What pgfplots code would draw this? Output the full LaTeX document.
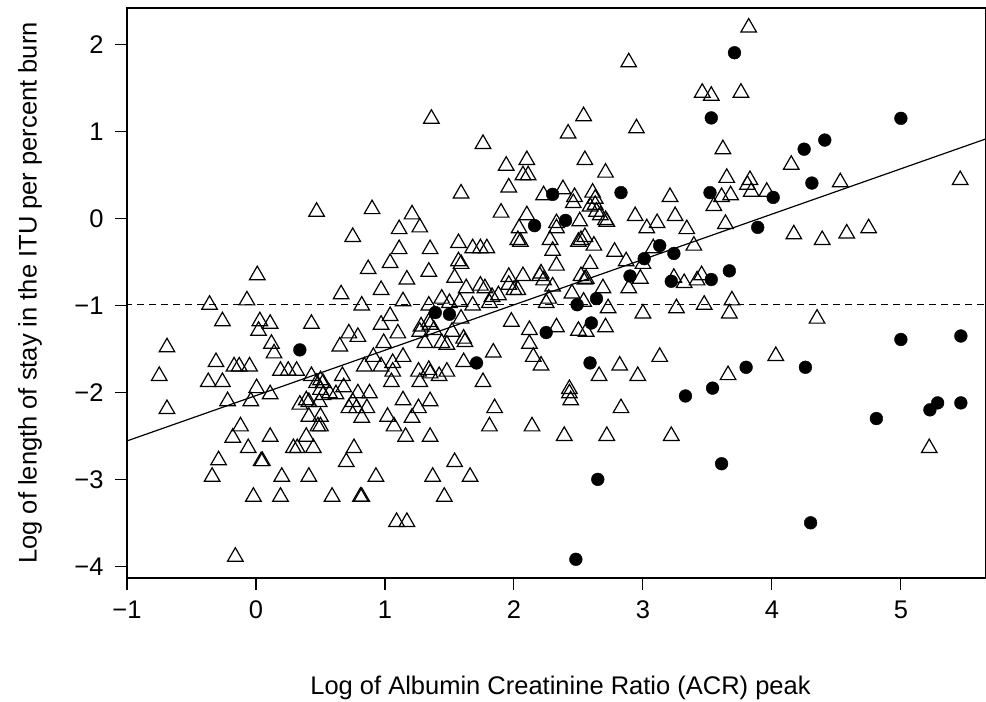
\documentclass[border=0pt]{standalone}
\usepackage{fontspec}
\setmainfont{Liberation Sans}
\usepackage{pgfplots}
\pgfplotsset{compat=1.18}
\begin{document}
\begin{tikzpicture}[font=\fontsize{25.5}{30}\selectfont]
\begin{axis}[
  scale only axis, width=859pt, height=570pt,
  xmin=-1, xmax=5.66, ymin=-4.135, ymax=2.425,
  axis line style={line width=1.1pt},
  xtick={-1,0,1,2,3,4,5}, xticklabels={−1,0,1,2,3,4,5},
  ytick={-4,-3,-2,-1,0,1,2}, yticklabels={−4,−3,−2,−1,0,1,2},
  xtick pos=lower, ytick pos=left,
  tick align=outside, major tick length=12pt,
  tick style={line width=1.1pt, black},
  xticklabel style={yshift=-7pt},
  yticklabel style={xshift=-8pt},
  clip=true,
]
% triangles
\addplot[only marks, mark=triangle, mark size=9pt, mark options={line width=1.2pt, fill=none, draw=black}] coordinates {
(0.01,-0.65) (-0.36,-0.99) (-0.07,-0.94) (-0.26,-1.18) (0.03,-1.18) (0.11,-1.21) (0.02,-1.29) (-0.69,-1.48) (0.12,-1.44)
(0.14,-1.55) (-0.31,-1.65) (-0.17,-1.70) (-0.13,-1.70) (-0.05,-1.70) (-0.75,-1.81) (-0.37,-1.88) (-0.26,-1.88) (0.19,-1.75) (0.25,-1.75) (0.315,-1.75) (0.005,-1.95) (0.11,-2.02) (-0.22,-2.10) (-0.04,-2.10) (-0.69,-2.19) (-0.12,-2.39) (-0.18,-2.52) (0.11,-2.51) (-0.06,-2.64) (0.29,-2.64) (0.32,-2.64) (-0.29,-2.78) (0.04,-2.79) (0.05,-2.79) (-0.34,-2.97) (0.20,-2.97) (-0.02,-3.2) (0.19,-3.2) (-0.16,-3.89) (0.34,-2.14)
(1.59,0.29) (0.47,0.08) (0.90,0.11) (1.21,0.05) (1.11,-0.12) (1.27,-0.10) (0.75,-0.21) (1.11,-0.35) (1.35,-0.35) (1.57,-0.28) (1.68,-0.34) (1.74,-0.34) (1.79,-0.34) (1.04,-0.51) (1.57,-0.49) (1.59,-0.52) (0.87,-0.58) (1.34,-0.61) (1.17,-0.70) (1.54,-0.68) (1.63,-0.80) (1.74,-0.77) (0.66,-0.87) (0.97,-0.82) (1.44,-0.92) (1.14,-0.95) (1.58,-0.955) (0.82,-1.0) (1.34,-1.0) (1.68,-1.0) (1.50,-0.97) (0.43,-1.21) (1.04,-1.12) (0.97,-1.22) (1.34,-1.19) (1.35,-1.22) (1.59,-1.15) (0.72,-1.32) (0.79,-1.36) (1.10,-1.32) (1.27,-1.30) (1.28,-1.24) (1.38,-1.28) (1.52,-1.30) (1.61,-1.38) (1.62,-1.42) (0.65,-1.47) (0.99,-1.43) (1.31,-1.43) (1.44,-1.43) (1.36,1.15)
(1.48,-1.45) (0.91,-1.59) (1.14,-1.59) (0.84,-1.70) (0.97,-1.70) (1.06,-1.66) (1.06,-1.76) (1.26,-1.76) (1.34,-1.74) (1.35,-1.78) (1.48,-1.76) (1.42,-1.81) (1.61,-1.65) (1.76,-1.88) (0.43,-1.81) (0.50,-1.86) (0.52,-1.89) (0.67,-1.81) (0.68,-1.94) (1.05,-1.88) (1.27,-1.88) (0.47,-1.89) (0.50,-1.97) (0.52,-2.03) (0.57,-2.01) (0.62,-2.02) (0.39,-2.09) (0.41,-2.11) (0.49,-2.11) (0.79,-2.01) (0.88,-2.01) (0.75,-2.11) (0.72,-2.18) (0.86,-2.18) (0.78,-2.18) (0.82,-2.29) (1.14,-2.09) (1.35,-2.10) (1.26,-2.18) (1.21,-2.29) (1.02,-2.28) (1.07,-2.39) (0.41,-2.28) (0.50,-2.28) (0.48,-2.39) (0.50,-2.39) (0.39,-2.51) (1.16,-2.51) (1.35,-2.51) (0.445,-2.64) (0.76,-2.64) (0.70,-2.80) (1.54,-2.80) (0.41,-2.97) (0.93,-2.97) (1.37,-2.97) (1.66,-2.97) (0.59,-3.2) (0.81,-3.2) (0.82,-3.2) (1.46,-3.2) (1.09,-3.49) (1.17,-3.49)
(2.89,1.80) (2.54,1.18) (2.42,0.98) (2.95,1.04) (1.76,0.86) (1.94,0.61) (2.10,0.675) (2.07,0.50) (2.11,0.50) (2.55,0.675) (2.71,0.53) (1.96,0.36) (2.38,0.34) (2.23,0.27) (2.47,0.25) (2.61,0.30) (2.63,0.23) (3.21,0.25)
(2.46,0.18) (2.59,0.14) (2.63,0.16) (2.64,0.08) (2.67,0.04) (2.71,-0.015) (2.72,-0.035) (1.90,0.07) (2.10,0.04) (2.04,-0.11) (2.33,-0.11) (2.33,-0.05) (2.51,-0.03) (2.94,0.03) (3.03,-0.11) (3.11,-0.05) (3.25,0.03) (2.03,-0.245) (2.05,-0.265) (2.28,-0.245) (2.50,-0.265) (2.55,-0.21) (2.52,-0.245) (2.62,-0.31) (2.30,-0.37) (2.78,-0.38) (3.08,-0.34) (2.87,-0.49) (3.00,-0.52) (2.33,-0.54) (2.59,-0.52) (2.52,-0.66) (2.56,-0.69) (2.55,-0.70) (2.98,-0.69) (1.96,-0.67) (2.07,-0.66) (2.20,-0.66) (2.23,-0.71) (2.21,-0.63) (1.775,-0.80) (1.83,-0.90) (1.88,-0.88) (1.81,-0.97) (1.96,-0.76) (2.00,-0.82) (2.03,-0.82) (2.30,-0.78) (2.27,-0.92) (2.25,-0.97) (2.45,-0.86) (2.69,-0.80) (2.89,-0.80) (2.54,-0.955) (2.73,-1.03) (3.00,-1.09) (3.26,-1.03) (1.98,-1.185) (2.33,-1.25) (2.71,-1.25) (2.50,-1.29) (2.56,-1.30) (2.12,-1.28) (2.12,-1.44) (1.84,-1.54) (2.15,-1.59) (2.21,-1.69) (2.82,-1.69) (3.13,-1.59) (2.66,-1.81) (2.96,-1.81) (2.43,-1.96)
(2.43,-2.01) (2.44,-2.09) (1.85,-2.18) (2.83,-2.18) (1.81,-2.39) (2.14,-2.39) (2.39,-2.50) (2.72,-2.50) (3.22,-2.50)
(3.82,2.2) (3.46,1.45) (3.53,1.415) (3.76,1.45) (3.62,0.80) (4.15,0.62) (3.65,0.47) (3.83,0.445) (3.81,0.39) (3.84,0.31) (4.53,0.42) (3.61,0.25) (3.68,0.27) (3.96,0.31)
(3.55,0.146) (3.34,-0.12) (3.64,-0.06) (4.17,-0.18) (4.39,-0.245) (4.58,-0.17) (4.75,-0.11) (3.395,-0.31) (3.455,-0.65) (3.42,-0.71) (3.32,-0.74) (3.24,-0.68) (3.69,-0.94) (3.475,-0.99) (3.67,-1.09) (4.35,-1.15) (4.03,-1.58) (3.66,-1.80)
(5.46,0.445) (5.22,-2.64)
};
% filled dots
\addplot[only marks, mark=*, mark size=6.4pt, mark options={fill=black, draw=black, line width=0.4pt}] coordinates {
(0.34,-1.51) (1.39,-1.08) (1.50,-1.10) (1.71,-1.66) (2.30,0.28) (2.83,0.30) (2.16,-0.08) (2.40,-0.02) (3.13,-0.31) (3.01,-0.46) (3.24,-0.40) (2.90,-0.66) (2.64,-0.92) (2.49,-0.99) (2.60,-1.20) (2.25,-1.31) (2.59,-1.66) (2.65,-3.0) (2.48,-3.92)
(3.71,1.91) (3.53,1.16) (4.25,0.80) (4.41,0.905) (4.31,0.41) (3.52,0.30) (4.01,0.245) (3.89,-0.10) (3.67,-0.60) (3.53,-0.70) (3.22,-0.72) (3.80,-1.71) (4.26,-1.71) (3.54,-1.95) (3.33,-2.04) (3.61,-2.82) (4.30,-3.5)
(5.0,1.155) (5.0,-1.39) (5.465,-1.35) (5.285,-2.12) (5.225,-2.20) (5.465,-2.12) (4.81,-2.30)
};
% regression line and reference line
\addplot[black, line width=1.2pt] coordinates {(-1.2,-2.662) (5.8,0.992)};
\addplot[black, line width=1.1pt, dash pattern=on 7pt off 5pt] coordinates {(-1.2,-0.99) (5.8,-0.99)};
\end{axis}
\node[rotate=90, anchor=center] at ([xshift=-97pt]current axis.west) {Log of length of stay in the ITU per percent burn};
\node[anchor=center] at ([yshift=-110pt,xshift=4pt]current axis.south) {Log of Albumin Creatinine Ratio (ACR) peak};
\pgfresetboundingbox
\path[use as bounding box] ([xshift=-127pt,yshift=-124pt]current axis.south west) rectangle ([yshift=8pt]current axis.north east);
\end{tikzpicture}
\end{document}
